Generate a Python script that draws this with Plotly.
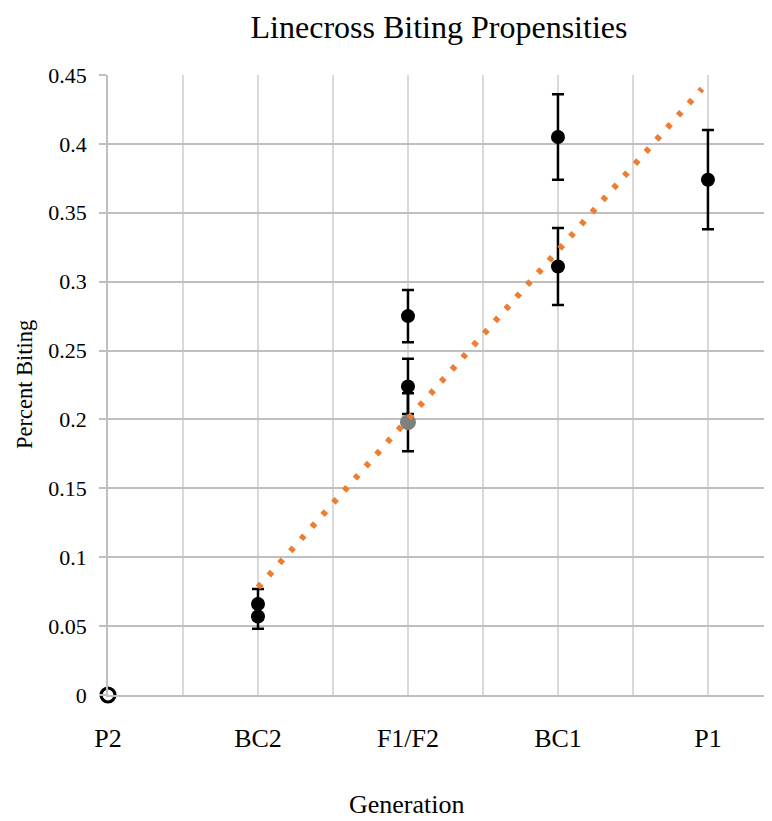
import plotly.graph_objects as go

# ---- data ----
generations = ["P2", "BC2", "F1/F2", "BC1", "P1"]

# black points (means with error bars)
black_gen = ["BC2", "BC2", "F1/F2", "F1/F2", "BC1", "BC1", "P1"]
black_val = [0.066, 0.057, 0.275, 0.224, 0.405, 0.311, 0.374]
black_err = [0.011, 0.009, 0.019, 0.020, 0.031, 0.028, 0.036]

# gray point
gray_gen = ["F1/F2"]
gray_val = [0.198]
gray_err = [0.021]

# open point
open_gen = ["P2"]
open_val = [0.0]

# linear trendline endpoints (generation index, value)
trend_x = [1.0, 3.96]
trend_y = [0.078, 0.440]

y_ticks = [0, 0.05, 0.1, 0.15, 0.2, 0.25, 0.3, 0.35, 0.4, 0.45]
y_tick_text = ["0", "0.05", "0.1", "0.15", "0.2", "0.25", "0.3", "0.35", "0.4", "0.45"]


def idx(names):
    return [generations.index(n) for n in names]


FONT = "Liberation Serif, Times New Roman, serif"

fig = go.Figure()

fig.add_trace(go.Scatter(
    x=idx(black_gen), y=black_val, mode="markers",
    marker=dict(color="black", size=14),
    error_y=dict(type="data", array=black_err, color="black", thickness=2.5, width=6),
    cliponaxis=False, showlegend=False,
))
fig.add_trace(go.Scatter(
    x=idx(gray_gen), y=gray_val, mode="markers",
    marker=dict(color="#7f7f7f", size=16),
    error_y=dict(type="data", array=gray_err, color="black", thickness=2.5, width=6),
    cliponaxis=False, showlegend=False,
))
fig.add_trace(go.Scatter(
    x=idx(open_gen), y=open_val, mode="markers",
    marker=dict(color="white", size=14, line=dict(color="black", width=3.2)),
    cliponaxis=False, showlegend=False,
))
fig.add_trace(go.Scatter(
    x=trend_x, y=trend_y, mode="lines",
    line=dict(color="#ED7D31", width=6, dash="5px,11.2px"),
    cliponaxis=False, showlegend=False,
))

fig.update_layout(
    width=764, height=813,
    margin=dict(l=100, r=0, t=67, b=126),
    paper_bgcolor="white", plot_bgcolor="white",
    font=dict(family=FONT, size=22, color="black"),
    title=dict(text="Linecross Biting Propensities", x=431 / 764, xref="container",
               xanchor="center", y=1 - 19 / 813, yanchor="middle",
               font=dict(family=FONT, size=32, color="black")),
    xaxis=dict(
        range=[0, 4.427], tickmode="array", tickvals=list(range(len(generations))),
        ticktext=generations, showgrid=True, gridcolor="#d9d9d9", gridwidth=1.5,
        minor=dict(dtick=0.5, tick0=0, showgrid=True, gridcolor="#d9d9d9", gridwidth=1.5),
        zeroline=False, showline=True, linecolor="#bfbfbf", linewidth=1.5,
        ticks="", ticklabelstandoff=19, tickfont=dict(family=FONT, size=26),
    ),
    yaxis=dict(
        range=[0, 0.45], tickmode="array", tickvals=y_ticks, ticktext=y_tick_text,
        showgrid=True, gridcolor="#bfbfbf", gridwidth=1.5,
        zeroline=True, zerolinecolor="#bfbfbf", zerolinewidth=1.5,
        showline=True, linecolor="#bfbfbf", linewidth=1.5,
        ticks="outside", ticklen=7, tickcolor="#bfbfbf", tickwidth=1.5,
        ticklabelstandoff=8, tickfont=dict(family=FONT, size=22),
    ),
    annotations=[
        dict(text="Generation", xref="paper", yref="paper", x=(399 - 100) / 664,
             y=-(796 - 687) / 620, xanchor="center", yanchor="middle",
             showarrow=False, font=dict(family=FONT, size=26)),
        dict(text="Percent Biting", xref="paper", yref="paper", x=(16 - 100) / 664,
             y=0.5, xanchor="center", yanchor="middle", textangle=-90,
             showarrow=False, font=dict(family=FONT, size=22.5)),
    ],
)

fig.write_html("out.html")
